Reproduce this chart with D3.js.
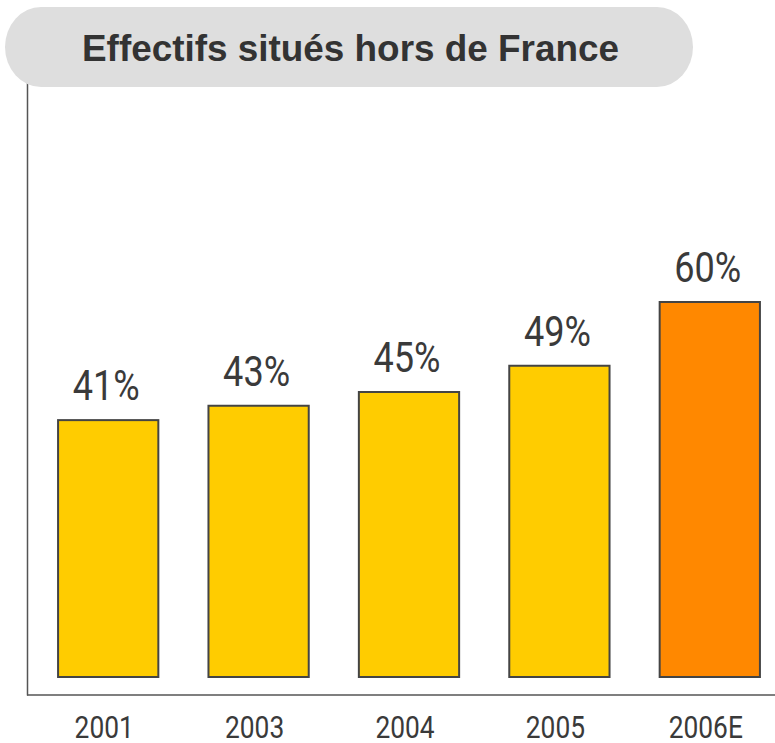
<!DOCTYPE html>
<html>
<head>
<meta charset="utf-8">
<script src="https://cdn.jsdelivr.net/npm/d3@7"></script>
<style>
  html, body { margin: 0; padding: 0; background: #fff; }
  svg { display: block; }
</style>
</head>
<body>
<svg id="chart" width="775" height="743"></svg>
<script>
const TITLE = "Effectifs situés hors de France";
const YEARS = ["2001", "2003", "2004", "2005", "2006E"];
const VALUES = [41.1, 43.4, 45.6, 49.8, 60];
const LABELS = ["41%", "43%", "45%", "49%", "60%"];
const ESTIMATE = [false, false, false, false, true];

const COLORS = { actual: "#ffcc00", estimate: "#ff8800", stroke: "#444", text: "#3a3a3a" };
const NARROW = "Roboto, 'Liberation Sans', sans-serif";

const svg = d3.select("#chart");

const x = d3.scaleBand().domain(YEARS).range([33, 785]).paddingInner(1 / 3).paddingOuter(1 / 6);
const y = d3.scaleLinear().domain([0, 60]).range([677, 302]);

// axes frame
svg.append("line")
  .attr("x1", 27.5).attr("x2", 27.5).attr("y1", 80).attr("y2", 695.5)
  .attr("stroke", "#555").attr("stroke-width", 1.5);
svg.append("line")
  .attr("x1", 27).attr("x2", 775).attr("y1", 695).attr("y2", 695)
  .attr("stroke", "#555").attr("stroke-width", 1.5);

// title pill
svg.append("rect")
  .attr("x", 5).attr("y", 7).attr("width", 688).attr("height", 80)
  .attr("rx", 36).attr("ry", 40)
  .attr("fill", "#dedede");
svg.append("text")
  .attr("x", 82).attr("y", 61)
  .attr("font-family", "'Liberation Sans', Arial, sans-serif")
  .attr("font-weight", "bold")
  .attr("font-size", 36)
  .attr("textLength", 537)
  .attr("lengthAdjust", "spacingAndGlyphs")
  .attr("fill", "#333")
  .text(TITLE);

// bars
svg.append("g")
  .selectAll("rect")
  .data(VALUES)
  .join("rect")
  .attr("x", (d, i) => x(YEARS[i]))
  .attr("width", x.bandwidth())
  .attr("y", (d) => y(d))
  .attr("height", (d) => y(0) - y(d))
  .attr("fill", (d, i) => (ESTIMATE[i] ? COLORS.estimate : COLORS.actual))
  .attr("stroke", COLORS.stroke)
  .attr("stroke-width", 2);

// value labels (narrowed Roboto)
svg.append("g")
  .selectAll("text")
  .data(VALUES)
  .join("text")
  .attr("transform", (d, i) => `translate(${x(YEARS[i]) + x.bandwidth() / 2 - 2},${y(d) - 20}) scale(0.84,1)`)
  .attr("text-anchor", "middle")
  .attr("font-family", NARROW)
  .attr("font-size", 43)
  .attr("fill", COLORS.text)
  .text((d, i) => LABELS[i]);

// category labels
svg.append("g")
  .selectAll("text")
  .data(YEARS)
  .join("text")
  .attr("transform", (d) => `translate(${x(d) + x.bandwidth() / 2 - 4},738) scale(0.85,1)`)
  .attr("text-anchor", "middle")
  .attr("font-family", NARROW)
  .attr("font-size", 31)
  .attr("fill", COLORS.text)
  .text((d) => d);
</script>
</body>
</html>
